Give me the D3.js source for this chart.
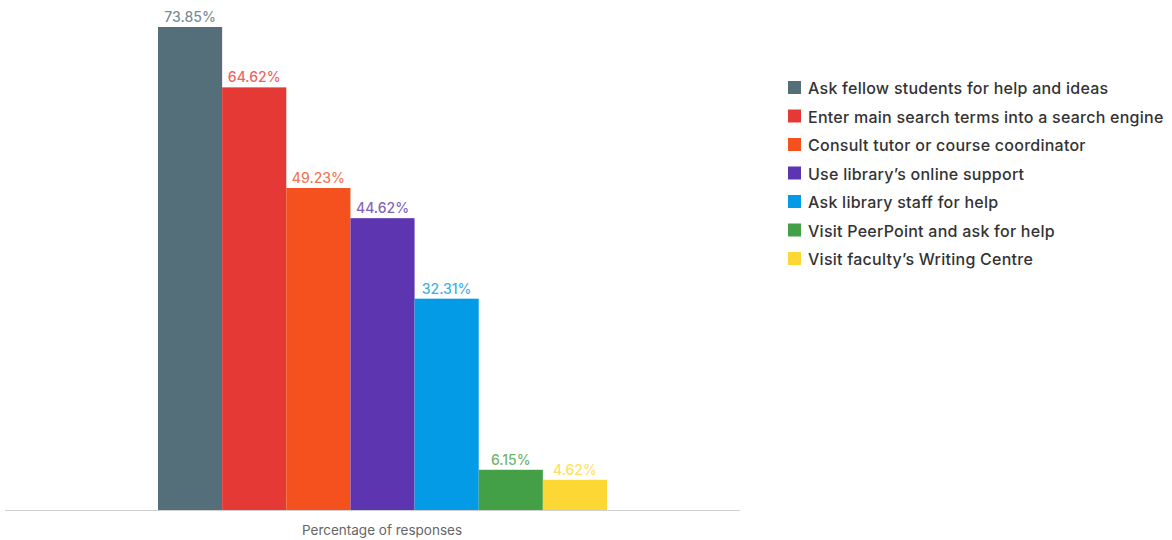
<!DOCTYPE html>
<html>
<head>
<meta charset="utf-8">
<script src="https://cdn.jsdelivr.net/npm/d3@7"></script>
<style>
  html, body { margin: 0; padding: 0; background: #fff; }
  svg { display: block; font-family: Inter, "Noto Sans", sans-serif; }
</style>
</head>
<body>
<svg id="chart" width="1172" height="540"></svg>
<script>
const categories = [
  "Ask fellow students for help and ideas",
  "Enter main search terms into a search engine",
  "Consult tutor or course coordinator",
  "Use library's online support",
  "Ask library staff for help",
  "Visit PeerPoint and ask for help",
  "Visit faculty's Writing Centre"
];
const legendLabels = [
  "Ask fellow students for help and ideas",
  "Enter main search terms into a search engine",
  "Consult tutor or course coordinator",
  "Use library\u2019s online support",
  "Ask library staff for help",
  "Visit PeerPoint and ask for help",
  "Visit faculty\u2019s Writing Centre"
];
const values = [73.85, 64.62, 49.23, 44.62, 32.31, 6.15, 4.62];
const colors = ["#546e7a", "#e53935", "#f4511e", "#5e35b1", "#039be5", "#43a047", "#fdd835"];
const axisTitle = "Percentage of responses";

const svg = d3.select("#chart");
const baseY = 510;

const x = d3.scaleBand().domain(categories).range([158, 607]).padding(0);
const y = d3.scaleLinear().domain([0, 73.85]).range([baseY, 27]);
const color = d3.scaleOrdinal().domain(categories).range(colors);

// bars
svg.append("g").selectAll("rect")
  .data(categories)
  .join("rect")
  .attr("x", d => x(d))
  .attr("width", x.bandwidth())
  .attr("y", (d, i) => y(values[i]))
  .attr("height", (d, i) => baseY - y(values[i]))
  .attr("fill", d => color(d));

// value labels above each bar
svg.append("g").selectAll("text")
  .data(categories)
  .join("text")
  .attr("x", d => x(d) + x.bandwidth() / 2)
  .attr("y", (d, i) => y(values[i]) - 5)
  .attr("text-anchor", "middle")
  .attr("font-size", 14)
  .attr("font-weight", 500)
  .attr("fill", d => color(d))
  .attr("fill-opacity", 0.8)
  .text((d, i) => values[i].toFixed(2) + "%");

// baseline
svg.append("line")
  .attr("x1", 5).attr("x2", 740)
  .attr("y1", baseY + 0.5).attr("y2", baseY + 0.5)
  .attr("stroke", "#d0d0d0").attr("stroke-width", 1);

// axis title
svg.append("text")
  .attr("x", 382).attr("y", 535)
  .attr("text-anchor", "middle")
  .attr("font-size", 13.5)
  .attr("fill", "#666")
  .text(axisTitle);

// legend
const legend = svg.append("g").attr("transform", "translate(788,88)");
const rows = legend.selectAll("g")
  .data(categories)
  .join("g")
  .attr("transform", (d, i) => `translate(0, ${i * 28.5})`);
rows.append("rect")
  .attr("x", 0).attr("y", -7)
  .attr("width", 13).attr("height", 13)
  .attr("fill", d => color(d));
rows.append("text")
  .attr("x", 20).attr("y", 0)
  .attr("dominant-baseline", "central")
  .attr("font-size", 16)
  .attr("font-weight", 500)
  .attr("letter-spacing", 0.25)
  .attr("fill", "#333")
  .text((d, i) => legendLabels[i]);
</script>
</body>
</html>
